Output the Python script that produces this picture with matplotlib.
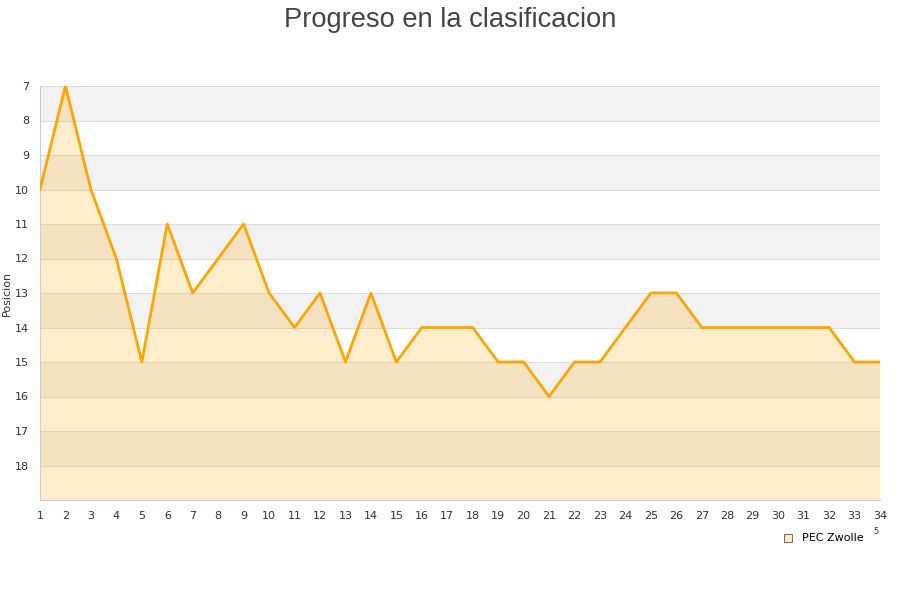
import numpy as np
import matplotlib
matplotlib.use('Agg')
import matplotlib.pyplot as plt

jornadas = list(range(1, 35))
posiciones = [10, 7, 10, 12, 15, 11, 13, 12, 11, 13, 14, 13, 15, 13, 15, 14, 14, 14,
              15, 15, 16, 15, 15, 14, 13, 13, 14, 14, 14, 14, 14, 14, 15, 15]
equipo = 'PEC Zwolle'
titulo = 'Progreso en la clasificacion'

fig = plt.figure(figsize=(9, 6), dpi=100)
ax = fig.add_axes([40 / 900, 1 - 500 / 600, 840 / 900, 414 / 600])

# alternating bands
for b in range(7, 19, 2):
    ax.axhspan(b, b + 1, color='#f2f2f2', zorder=0, lw=0)
for t in range(7, 19):
    ax.axhline(t, color='#dddddd', lw=0.8, zorder=1)

ax.fill_between(jornadas, posiciones, 19, color='#ffa500', alpha=0.2, lw=0, zorder=2)
ax.plot(jornadas, posiciones, color='#ffa500', lw=2, zorder=3, label=equipo)

ax.set_xlim(1, 34)
ax.set_ylim(19, 7)
ax.set_yticks(range(7, 19))
ax.set_xticks(jornadas)
ax.tick_params(axis='both', length=0, labelsize=8, colors='#333333', pad=8)
ax.set_ylabel('Posicion', fontsize=8, color='#333333', labelpad=2)

for s in ['top', 'right']:
    ax.spines[s].set_visible(False)
for s in ['left', 'bottom']:
    ax.spines[s].set_color('#cccccc')

fig.text(0.5, 0.988, titulo, ha='center', va='top', fontsize=19.6,
         family='Liberation Sans', color='#444444')

ax.legend(handles=[plt.Line2D([], [], marker='s', ls='none', markersize=6,
                              markerfacecolor='#fde9c0', markeredgecolor='#555555',
                              markeredgewidth=0.6)],
          labels=[equipo], loc='upper left', bbox_to_anchor=(732 / 840, -0.07),
          frameon=False, fontsize=8, handletextpad=0.3, borderaxespad=0)
fig.text(876 / 900, 1 - 531 / 600, '5', ha='center', va='center', fontsize=6, color='#333333')

fig.savefig('out.png', dpi=100)
